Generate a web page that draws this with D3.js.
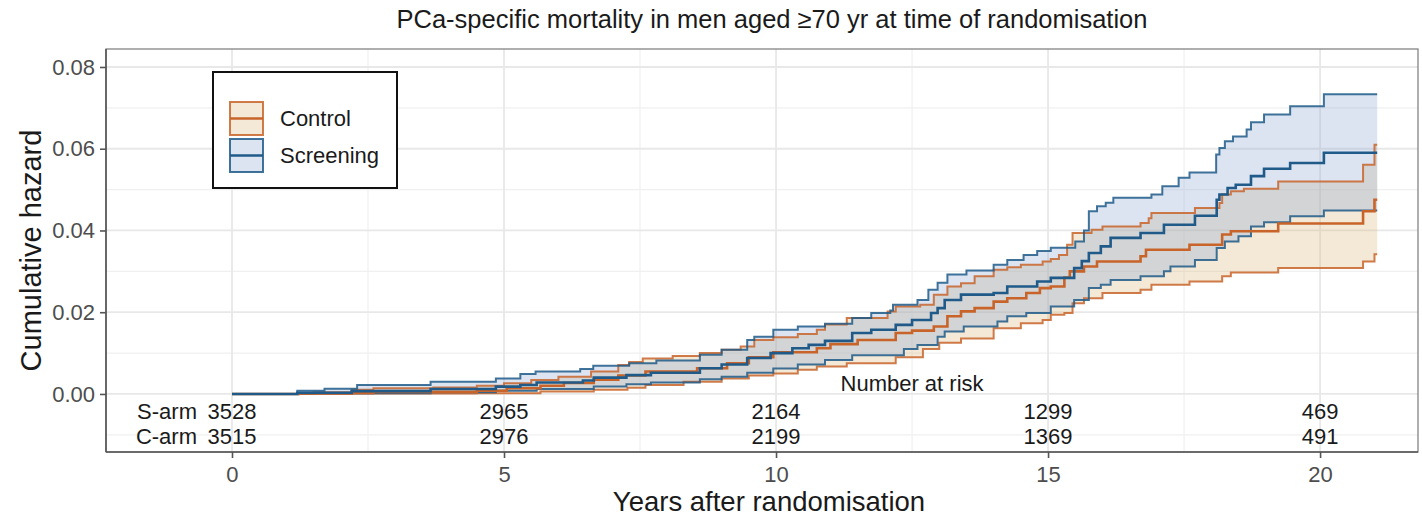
<!DOCTYPE html>
<html><head><meta charset="utf-8">
<script src="https://cdn.jsdelivr.net/npm/d3@7"></script>
<style>body{margin:0;background:#fff;}svg{display:block;font-family:"Liberation Sans",Arial,sans-serif;}</style>
</head><body><svg id="chart" width="1422" height="518"></svg>
<script>
const title = "PCa-specific mortality in men aged \u226570 yr at time of randomisation";
const groups = ["Control", "Screening"];
const xTicks = [0, 5, 10, 15, 20];
const yTicks = [0, 0.02, 0.04, 0.06, 0.08];
const riskTimes = [0, 5, 10, 15, 20];
const riskS = [3528, 2965, 2164, 1299, 469];
const riskC = [3515, 2976, 2199, 1369, 491];
const endTime = 21.05;

// Screening arm: [years, cumulative hazard]
const sEst = [[0,0],[1.2,0.0003],[2.2,0.0007],[3.65,0.0012],[4.85,0.0018],[5.3,0.0022],[5.6,0.0028],[6.45,0.0033],[6.65,0.0040],[7.25,0.0046],[7.7,0.0052],[8.6,0.0063],[9.0,0.0072],[9.47,0.0088],[9.9,0.0100],[10.3,0.0112],[10.6,0.0120],[10.9,0.0130],[11.4,0.0149],[11.75,0.0157],[12.2,0.0169],[12.5,0.0181],[12.85,0.0198],[12.97,0.0210],[13.1,0.0230],[13.4,0.0243],[14.0,0.0247],[14.25,0.0263],[14.8,0.0275],[15.05,0.0284],[15.48,0.0308],[15.62,0.0325],[15.75,0.0345],[15.97,0.0361],[16.15,0.0382],[16.7,0.0394],[17.13,0.0414],[17.7,0.0436],[18.1,0.0475],[18.15,0.0488],[18.3,0.0504],[18.45,0.0512],[18.73,0.0533],[18.97,0.0551],[19.45,0.0565],[20.07,0.0590]];
const sLo = [[0,0],[1.2,0.0001],[2.2,0.0002],[3.65,0.0004],[4.85,0.0008],[5.6,0.0012],[6.65,0.0018],[7.25,0.0024],[7.7,0.0028],[8.6,0.0036],[9.0,0.0042],[9.47,0.0052],[9.95,0.0062],[10.4,0.0072],[10.9,0.0083],[11.4,0.0095],[12.35,0.0110],[12.6,0.0120],[12.97,0.0140],[13.1,0.0153],[13.45,0.0165],[14.07,0.0177],[14.25,0.0190],[14.6,0.0198],[15.05,0.0214],[15.48,0.0230],[15.75,0.0259],[15.97,0.0267],[16.15,0.0279],[16.7,0.0288],[17.13,0.0300],[17.25,0.0312],[17.7,0.0328],[18.1,0.0357],[18.25,0.0373],[18.5,0.0386],[18.73,0.0410],[18.97,0.0420],[19.45,0.0435],[20.07,0.0449]];
const sUp = [[0,0],[1.2,0.0008],[1.7,0.0013],[2.3,0.0022],[3.65,0.0030],[4.85,0.0038],[5.3,0.0049],[5.58,0.0055],[6.4,0.0061],[6.64,0.0069],[7.3,0.0075],[7.8,0.0082],[8.6,0.0096],[9.0,0.0108],[9.47,0.0132],[9.6,0.0140],[9.95,0.0157],[10.4,0.0165],[10.9,0.0172],[11.4,0.0186],[11.75,0.0198],[12.1,0.0204],[12.15,0.0218],[12.6,0.0230],[12.8,0.0255],[12.97,0.0272],[13.15,0.0292],[13.5,0.0302],[14.0,0.0316],[14.25,0.0328],[14.55,0.0340],[14.8,0.0350],[15.05,0.0358],[15.5,0.0373],[15.66,0.0400],[15.75,0.0447],[15.9,0.0459],[16.06,0.0468],[16.2,0.0480],[16.9,0.0488],[17.1,0.0508],[17.4,0.0529],[17.6,0.0542],[18.09,0.0586],[18.15,0.0602],[18.25,0.0618],[18.4,0.0630],[18.65,0.0647],[18.73,0.0665],[18.97,0.0684],[19.45,0.0704],[20.07,0.0733]];

// Control arm
const cEst = [[0,0],[1.23,0.0001],[2.2,0.0003],[2.6,0.0005],[4.5,0.0008],[5.05,0.0014],[5.67,0.0020],[6.1,0.0027],[6.65,0.0035],[7.1,0.0045],[7.6,0.0055],[8.55,0.0063],[9.1,0.0075],[9.5,0.0090],[9.95,0.0102],[10.75,0.0112],[11.0,0.0122],[11.5,0.0132],[12.2,0.0149],[12.5,0.0155],[12.9,0.0165],[13.15,0.0190],[13.4,0.0202],[13.65,0.0210],[14.0,0.0226],[14.25,0.0234],[14.6,0.0247],[14.85,0.0259],[15.05,0.0263],[15.3,0.0285],[15.4,0.0300],[15.66,0.0312],[15.9,0.0324],[16.7,0.0337],[16.8,0.0353],[17.6,0.0365],[18.2,0.0390],[18.36,0.0398],[19.23,0.0417],[20.79,0.0447],[21.0,0.0475]];
const cLo = [[0,0],[1.5,0.00005],[2.6,0.0001],[4.5,0.0002],[5.67,0.0006],[6.65,0.0010],[7.27,0.0015],[7.6,0.0022],[8.3,0.0030],[9.0,0.0038],[9.5,0.0045],[9.95,0.0050],[10.4,0.0059],[10.75,0.0067],[11.3,0.0075],[12.2,0.0090],[12.7,0.0110],[13.0,0.0125],[13.4,0.0136],[14.0,0.0161],[14.5,0.0173],[14.9,0.0181],[15.05,0.0194],[15.3,0.0198],[15.45,0.0222],[15.66,0.0234],[16.0,0.0247],[16.7,0.0255],[16.9,0.0267],[17.6,0.0275],[18.2,0.0288],[18.36,0.0297],[19.23,0.0308],[20.79,0.0324],[21.0,0.0342]];
const cUp = [[0,0],[1.5,0.0004],[2.2,0.0010],[2.6,0.0014],[3.7,0.0016],[4.5,0.0020],[5.0,0.0026],[5.5,0.0034],[6.0,0.0042],[6.6,0.0055],[7.1,0.0071],[7.3,0.0078],[7.55,0.0087],[8.1,0.0093],[8.6,0.0100],[9.0,0.0108],[9.35,0.0116],[9.6,0.0132],[9.95,0.0139],[10.4,0.0147],[10.75,0.0157],[10.9,0.0170],[11.3,0.0186],[12.05,0.0202],[12.2,0.0214],[12.65,0.0218],[12.9,0.0243],[13.15,0.0263],[13.4,0.0271],[13.65,0.0288],[14.0,0.0304],[14.25,0.0310],[14.5,0.0316],[14.9,0.0324],[15.05,0.0330],[15.2,0.0340],[15.35,0.0365],[15.45,0.0394],[15.8,0.0402],[16.0,0.0410],[16.7,0.0418],[16.85,0.0430],[16.9,0.0443],[17.7,0.0455],[18.15,0.0467],[18.2,0.0488],[18.36,0.0496],[18.6,0.0502],[19.23,0.0520],[20.79,0.0561],[21.0,0.0610]];

const colors = {Control: "#C8642A", Screening: "#1F5A88"};
const fills = {Control: "rgb(215,182,118)", Screening: "rgb(138,165,212)"};
const FONT = "Liberation Sans, Arial, sans-serif";

const svg = d3.select("#chart");
const L = 106, R = 1418, T = 49, B = 452;
const x = d3.scaleLinear().domain([-2.316, 21.8]).range([L, R]);
const y = d3.scaleLinear().domain([-0.0142, 0.0844]).range([B, T]);

// grid
const g = svg.append("g");
const minorY = d3.range(-0.01, 0.085, 0.02);
const minorX = [2.5, 7.5, 12.5, 17.5];
g.selectAll(".my").data(minorY).join("line").attr("x1", L).attr("x2", R)
  .attr("y1", d => y(d)).attr("y2", d => y(d)).attr("stroke", "#f0f0f0").attr("stroke-width", 1.2);
g.selectAll(".mx").data(minorX).join("line").attr("y1", T).attr("y2", B)
  .attr("x1", d => x(d)).attr("x2", d => x(d)).attr("stroke", "#f0f0f0").attr("stroke-width", 1.2);
g.selectAll(".gy").data(yTicks).join("line").attr("x1", L).attr("x2", R)
  .attr("y1", d => y(d)).attr("y2", d => y(d)).attr("stroke", "#e8e8e8").attr("stroke-width", 1.8);
g.selectAll(".gx").data(xTicks).join("line").attr("y1", T).attr("y2", B)
  .attr("x1", d => x(d)).attr("x2", d => x(d)).attr("stroke", "#e8e8e8").attr("stroke-width", 1.8);

// step helpers
function stepVal(arr, t) { let v = 0; for (const p of arr) { if (p[0] <= t) v = p[1]; else break; } return v; }
function withEnd(arr) { const a = arr.slice(); a.push([endTime, a[a.length - 1][1]]); return a; }
function band(lo, up) {
  const ts = Array.from(new Set(lo.map(d => d[0]).concat(up.map(d => d[0]), [endTime]))).sort((a, b) => a - b);
  return ts.map(t => ({t, lo: stepVal(lo, t), up: stepVal(up, t)}));
}
const area = d3.area().curve(d3.curveStepAfter).x(d => x(d.t)).y0(d => y(d.lo)).y1(d => y(d.up));
const line = d3.line().curve(d3.curveStepAfter).x(d => x(d[0])).y(d => y(d[1]));

const arms = [
  {name: "Control", est: cEst, lo: cLo, up: cUp},
  {name: "Screening", est: sEst, lo: sLo, up: sUp}
];
arms.forEach(a => {
  svg.append("path").attr("d", area(band(a.lo, a.up))).attr("fill", fills[a.name]).attr("fill-opacity", 0.3);
});
arms.forEach(a => {
  [a.lo, a.up].forEach(c => {
    svg.append("path").attr("d", line(withEnd(c))).attr("fill", "none")
      .attr("stroke", colors[a.name]).attr("stroke-width", 2).attr("stroke-opacity", 0.85);
  });
});
arms.forEach(a => {
  svg.append("path").attr("d", line(withEnd(a.est))).attr("fill", "none")
    .attr("stroke", colors[a.name]).attr("stroke-width", 2.6);
});

// panel border + axes
svg.append("rect").attr("x", L).attr("y", T).attr("width", R - L).attr("height", B - T)
  .attr("fill", "none").attr("stroke", "#7a7a7a").attr("stroke-width", 1.2);
svg.append("line").attr("x1", L).attr("x2", R).attr("y1", B).attr("y2", B).attr("stroke", "#555").attr("stroke-width", 1.6);
svg.append("line").attr("x1", L).attr("x2", L).attr("y1", T).attr("y2", B).attr("stroke", "#555").attr("stroke-width", 1.6);

const xAxis = svg.append("g").attr("transform", `translate(0,${B})`)
  .call(d3.axisBottom(x).tickValues(xTicks).tickFormat(d3.format("d")).tickSize(6).tickPadding(8));
const yAxis = svg.append("g").attr("transform", `translate(${L},0)`)
  .call(d3.axisLeft(y).tickValues(yTicks).tickFormat(d3.format(".2f")).tickSize(6).tickPadding(5));
[xAxis, yAxis].forEach(ax => {
  ax.select(".domain").remove();
  ax.selectAll(".tick line").attr("stroke", "#555").attr("stroke-width", 1.6);
  ax.selectAll(".tick text").attr("fill", "#4d4d4d").style("font-size", "22px").style("font-family", FONT);
});

// risk table
svg.append("text").attr("x", x(12.5)).attr("y", 391).attr("text-anchor", "middle")
  .style("font-size", "22px").attr("fill", "#1a1a1a").text("Number at risk");
const rowY = [419, 444];
[["S-arm", riskS], ["C-arm", riskC]].forEach((r, i) => {
  svg.append("text").attr("x", 197).attr("y", rowY[i]).attr("text-anchor", "end")
    .style("font-size", "22px").attr("fill", "#1a1a1a").text(r[0]);
  svg.selectAll(null).data(r[1]).join("text")
    .attr("x", (d, j) => x(riskTimes[j])).attr("y", rowY[i]).attr("text-anchor", "middle")
    .style("font-size", "22px").attr("fill", "#1a1a1a").text(d => d);
});

// title and axis labels
svg.append("text").attr("x", 772).attr("y", 28).attr("text-anchor", "middle")
  .style("font-size", "25.5px").attr("fill", "#1a1a1a").text(title);
svg.append("text").attr("x", 769).attr("y", 511).attr("text-anchor", "middle")
  .style("font-size", "27.5px").attr("fill", "#1a1a1a").text("Years after randomisation");
svg.append("text").attr("transform", `translate(41,${(T + B) / 2}) rotate(-90)`).attr("text-anchor", "middle")
  .style("font-size", "29px").attr("fill", "#1a1a1a").text("Cumulative hazard");

// legend
const lg = svg.append("g");
lg.append("rect").attr("x", 213).attr("y", 72).attr("width", 184).attr("height", 116)
  .attr("fill", "#fff").attr("stroke", "#111").attr("stroke-width", 2);
groups.forEach((gname, i) => {
  const ky = 102 + i * 37;
  lg.append("rect").attr("x", 230).attr("y", ky).attr("width", 33).attr("height", 33)
    .attr("fill", fills[gname]).attr("fill-opacity", 0.3).attr("stroke", colors[gname]).attr("stroke-width", 2).attr("stroke-opacity", 0.85);
  lg.append("line").attr("x1", 230).attr("x2", 263).attr("y1", ky + 16.5).attr("y2", ky + 16.5)
    .attr("stroke", colors[gname]).attr("stroke-width", 2.6);
  lg.append("text").attr("x", 280).attr("y", ky + 24).style("font-size", "22px").attr("fill", "#1a1a1a").text(gname);
});
</script></body></html>
